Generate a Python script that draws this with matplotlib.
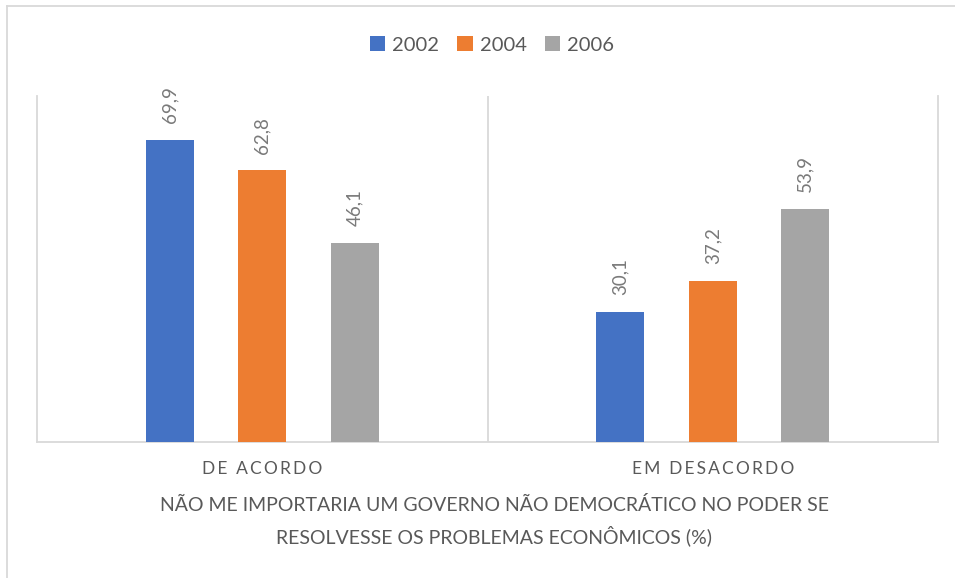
import matplotlib
matplotlib.use("Agg")
import matplotlib.pyplot as plt
from matplotlib.patches import Patch
from matplotlib.lines import Line2D
import numpy as np

categories = ["DE ACORDO", "EM DESACORDO"]
series_names = ["2002", "2004", "2006"]
values_2002 = [69.9, 30.1]
values_2004 = [62.8, 37.2]
values_2006 = [46.1, 53.9]
axis_title = "NÃO ME IMPORTARIA UM GOVERNO NÃO DEMOCRÁTICO NO PODER SE\nRESOLVESSE OS PROBLEMAS ECONÔMICOS (%)"

colors = ["#4472C4", "#ED7D31", "#A5A5A5"]
series = [values_2002, values_2004, values_2006]

plt.rcParams['font.family'] = ['Lato', 'DejaVu Sans']

W, H = 955, 578
fig = plt.figure(figsize=(W / 100, H / 100), dpi=100)
ax = fig.add_axes([37 / W, (H - 442) / H, (938 - 37) / W, (442 - 96) / H])

x = np.arange(len(categories)) + 0.5
bw = 0.107
offs = [-0.2053, 0.0, 0.2053]
for vals, c, o, name in zip(series, colors, offs, series_names):
    bars = ax.bar(x + o, vals, width=bw, color=c, label=name, zorder=3)
    for b, v in zip(bars, vals):
        ax.annotate(f"{v:.1f}".replace(".", ","),
                    (b.get_x() + b.get_width() / 2, v),
                    xytext=(0, 12), textcoords="offset points",
                    rotation=90, ha="center", va="bottom",
                    fontsize=13.5, color="#7a7a7a")

ax.set_xlim(0, len(categories))
ax.set_ylim(0, 80)
ax.set_yticks([])
ax.set_xticks([])
for s in ["left", "right", "bottom"]:
    ax.spines[s].set_color("#d9d9d9")
    ax.spines[s].set_linewidth(1.3)
ax.spines["top"].set_visible(False)
ax.axvline(1, color="#d9d9d9", lw=1.3, zorder=1)

for xi, cat in zip(x, categories):
    spaced = "\u2009".join(list(cat))
    ax.text(xi, -0.078, spaced, transform=ax.get_xaxis_transform(),
            ha="center", va="center", fontsize=12.5, color="#595959")

fig.text(494 / W, 1 - 521 / H, axis_title, ha="center", va="center",
         fontsize=14, color="#595959", linespacing=1.6)

handles = [Patch(facecolor=c, edgecolor="none", label=n) for c, n in zip(colors, series_names)]
fig.legend(handles=handles, loc="center", bbox_to_anchor=(492 / W, 1 - 45 / H),
           ncol=3, frameon=False, fontsize=14.5, handlelength=0.75, handleheight=0.75,
           handletextpad=0.35, columnspacing=0.9, labelcolor="#595959")

# outer frame lines
fig.add_artist(Line2D([7 / W, 1], [1 - 6 / H, 1 - 6 / H], color="#d9d9d9", lw=1.3))
fig.add_artist(Line2D([7 / W, 7 / W], [0, 1 - 6 / H], color="#d9d9d9", lw=1.3))

fig.savefig("out.png", dpi=100)
